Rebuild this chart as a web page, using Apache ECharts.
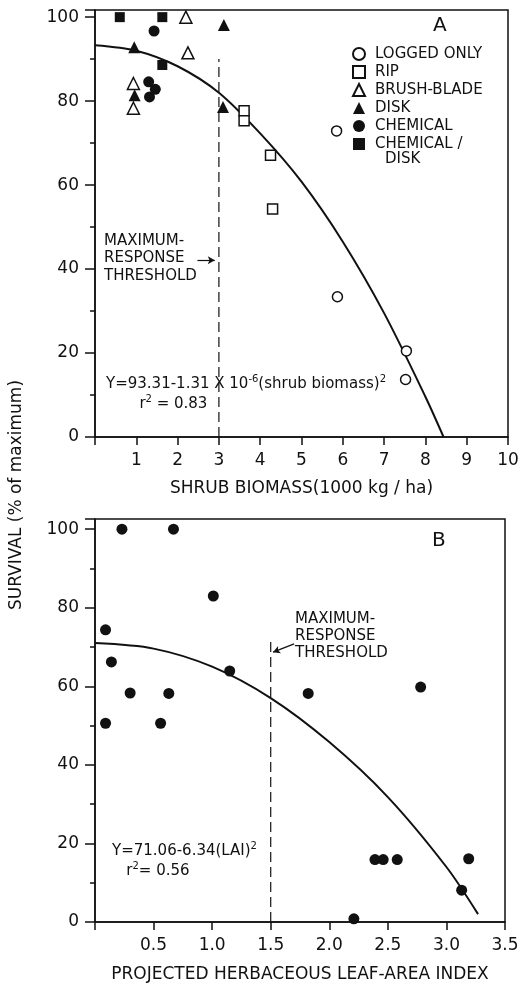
<!DOCTYPE html>
<html>
<head>
<meta charset="utf-8">
<script src="https://cdn.jsdelivr.net/npm/echarts@6/dist/echarts.min.js"></script>
<style>
  html, body { margin: 0; padding: 0; background: #fff; }
  #main { width: 522px; height: 984px; }
</style>
</head>
<body>
<div id="main"></div>
<script>
    // panel A: survival vs shrub biomass (1000 kg/ha)
    var loggedOnly = [[5.85, 72.9], [5.87, 33.4], [7.54, 20.5], [7.52, 13.7]];
    var rip = [[3.61, 77.7], [3.61, 75.3], [4.25, 67.1], [4.3, 54.3]];
    var brushBlade = [[2.2, 100], [2.25, 91.5], [0.93, 84.2], [0.93, 78.3]];
    var disk = [[3.12, 98.1], [0.95, 92.8], [0.96, 81.4], [3.1, 78.6]];
    var chemical = [[1.43, 96.7], [1.3, 84.6], [1.46, 82.8], [1.32, 81.0]];
    var chemDisk = [[0.6, 100], [1.63, 100], [1.63, 88.6]];
    // fitted curve
    var curveA = [[0, 93.3], [1, 92.0], [2, 88.3], [3, 82.0], [4, 72.3], [5, 60.8], [6, 46.5], [7, 29.5], [8, 9.6], [8.44, 0]];
    var thresholdA = [[3, 0], [3, 90]];
    var arrowA = [[2.48, 42.1], [2.9, 42.1]];

    // panel B: survival vs projected herbaceous LAI
    var laiPoints = [
        [0.23, 100], [0.67, 100], [1.01, 83.0], [0.09, 74.4], [0.14, 66.2], [1.15, 63.9],
        [0.3, 58.3], [0.63, 58.2], [1.82, 58.2], [2.78, 59.8], [0.09, 50.6], [0.56, 50.6],
        [2.21, 0.8], [2.39, 15.9], [2.46, 15.9], [2.58, 15.9], [3.19, 16.1], [3.13, 8.1]
    ];
    var curveB = [[0, 71.0], [0.5, 69.6], [1.0, 65.0], [1.5, 57.0], [2.0, 45.8], [2.5, 31.8], [3.0, 14.0], [3.27, 2.0]];
    var thresholdB = [[1.5, 0], [1.5, 71.5]];
    var arrowB = [[1.7, 70.8], [1.52, 68.7]];

    var legendNames = ['LOGGED ONLY', 'RIP', 'BRUSH-BLADE', 'DISK', 'CHEMICAL', 'CHEMICAL/DISK'];
    var xTicksA = [1, 2, 3, 4, 5, 6, 7, 8, 9, 10];
    var yTicks = [0, 20, 40, 60, 80, 100];

    var ink = '#111';
    var font = 'DejaVu Sans';

    var myChart = echarts.init(document.getElementById('main'));

    function hollow(name, symbol, size, data) {
        return {
            name: name, type: 'scatter', xAxisIndex: 0, yAxisIndex: 0,
            symbol: symbol, symbolSize: size, data: data,
            itemStyle: { color: '#fff', borderColor: ink, borderWidth: 1.5, opacity: 1 },
            z: 5
        };
    }
    function filled(name, symbol, size, data, xi) {
        return {
            name: name, type: 'scatter', xAxisIndex: xi, yAxisIndex: xi,
            symbol: symbol, symbolSize: size, data: data,
            itemStyle: { color: ink, opacity: 1 },
            z: 5
        };
    }
    function yAxisCfg(idx, max) {
        return {
            type: 'value', gridIndex: idx, min: 0, max: max, interval: 20,
            axisLine: { show: true, lineStyle: { color: ink, width: 1.5 } },
            axisTick: { show: true, length: 10, lineStyle: { color: ink, width: 1.5 } },
            minorTick: { show: true, splitNumber: 2, length: 5, lineStyle: { color: ink, width: 1.5 } },
            axisLabel: {
                margin: 16, fontSize: 17, color: ink, fontFamily: font,
                formatter: function (v) { return yTicks.indexOf(v) >= 0 ? v : ''; }
            },
            splitLine: { show: false }
        };
    }
    function lineSeries(data, xi, dashed) {
        return {
            type: 'line', xAxisIndex: xi, yAxisIndex: xi, data: data,
            smooth: dashed ? false : 0.3,
            showSymbol: false, symbol: 'none', silent: true,
            lineStyle: dashed ? { color: ink, width: 1.2, type: [10, 5] } : { color: ink, width: 2 },
            z: 3
        };
    }
    function arrowSeries(data, xi) {
        return {
            type: 'line', xAxisIndex: xi, yAxisIndex: xi, data: [],
            silent: true,
            markLine: {
                silent: true, symbol: ['none', 'arrow'], symbolSize: [6, 7],
                label: { show: false },
                lineStyle: { color: ink, width: 1.2, type: 'solid' },
                data: [[{ coord: data[0] }, { coord: data[1] }]]
            }
        };
    }

    myChart.setOption({
        backgroundColor: '#fff',
        animation: false,
        textStyle: { fontFamily: font },
        grid: [{
            left: 95, right: 14, top: 10, height: 427,
            show: true, borderColor: ink, borderWidth: 1.5, backgroundColor: 'transparent'
        }, {
            left: 95, right: 17, top: 519, height: 404,
            show: true, borderColor: ink, borderWidth: 1.5, backgroundColor: 'transparent'
        }],
        legend: {
            data: legendNames,
            orient: 'vertical',
            left: 352, top: 45,
            padding: 0,
            itemWidth: 12, itemHeight: 12, itemGap: 0,
            textStyle: { fontSize: 15, lineHeight: 18, color: ink, fontFamily: font, padding: [0, 0, 0, 5] },
            formatter: function (name) { return name === 'CHEMICAL/DISK' ? 'CHEMICAL /' : name; },
            selectedMode: false
        },
        xAxis: [{
            type: 'value', gridIndex: 0, min: 0, max: 10, interval: 1,
            axisLine: { show: true, onZero: false, lineStyle: { color: ink, width: 1.5 } },
            axisTick: { show: true, length: 8, lineStyle: { color: ink, width: 1.5 } },
            axisLabel: {
                margin: 15, fontSize: 17, color: ink, fontFamily: font,
                formatter: function (v) { return xTicksA.indexOf(v) >= 0 ? v : ''; }
            },
            splitLine: { show: false },
            name: 'SHRUB BIOMASS(1000 kg / ha)',
            nameLocation: 'middle', nameGap: 43,
            nameTextStyle: { fontSize: 17, color: ink, fontFamily: font }
        }, {
            type: 'value', gridIndex: 1, min: 0, max: 3.5, interval: 0.5,
            axisLine: { show: true, onZero: false, lineStyle: { color: ink, width: 1.5 } },
            axisTick: { show: true, length: 8, lineStyle: { color: ink, width: 1.5 } },
            axisLabel: {
                margin: 15, fontSize: 17, color: ink, fontFamily: font,
                formatter: function (v) { return v === 0 ? '' : v.toFixed(1); }
            },
            splitLine: { show: false },
            name: 'PROJECTED HERBACEOUS LEAF-AREA INDEX',
            nameLocation: 'middle', nameGap: 44,
            nameTextStyle: { fontSize: 17, color: ink, fontFamily: font }
        }],
        yAxis: [yAxisCfg(0, 101.7), yAxisCfg(1, 102.6)],
        series: [
            hollow('LOGGED ONLY', 'circle', 10, loggedOnly),
            hollow('RIP', 'rect', 10, rip),
            hollow('BRUSH-BLADE', 'triangle', 12, brushBlade),
            filled('DISK', 'triangle', 12, disk, 0),
            filled('CHEMICAL', 'circle', 11, chemical, 0),
            filled('CHEMICAL/DISK', 'rect', 10, chemDisk, 0),
            lineSeries(curveA, 0, false),
            lineSeries(thresholdA, 0, true),
            arrowSeries(arrowA, 0),
            filled('LAI', 'circle', 11, laiPoints, 1),
            lineSeries(curveB, 1, false),
            lineSeries(thresholdB, 1, true),
            arrowSeries(arrowB, 1)
        ],
        graphic: [
            { type: 'text', left: 385, top: 152, style: { text: 'DISK', fill: ink, font: '15px "' + font + '"' } },
            { type: 'text', left: 433, top: 16, style: { text: 'A', fill: ink, font: '20px "' + font + '"' } },
            { type: 'text', left: 432, top: 531, style: { text: 'B', fill: ink, font: '20px "' + font + '"' } },
            {
                type: 'text', left: 104, top: 232,
                style: { text: 'MAXIMUM-\nRESPONSE\nTHRESHOLD', fill: ink, font: '15px "' + font + '"', lineHeight: 17.5 }
            },
            {
                type: 'text', left: 295, top: 611,
                style: { text: 'MAXIMUM-\nRESPONSE\nTHRESHOLD', fill: ink, font: '15px "' + font + '"', lineHeight: 17 }
            },
            {
                type: 'text', left: 106, top: 374,
                style: {
                    text: '{n|Y=93.31-1.31 X 10}{s|-6}{n|(shrub biomass)}{s|2}\n{n|       r}{s|2}{n| = 0.83}',
                    fill: ink, lineHeight: 20,
                    rich: {
                        n: { fontSize: 15, fontFamily: font, fill: ink, lineHeight: 20 },
                        s: { fontSize: 10, fontFamily: font, fill: ink, verticalAlign: 'top', lineHeight: 20, padding: [0, 0, 8, 0] }
                    }
                }
            },
            {
                type: 'text', left: 112, top: 841,
                style: {
                    text: '{n|Y=71.06-6.34(LAI)}{s|2}\n{n|   r}{s|2}{n|= 0.56}',
                    fill: ink, lineHeight: 20,
                    rich: {
                        n: { fontSize: 15, fontFamily: font, fill: ink, lineHeight: 20 },
                        s: { fontSize: 10, fontFamily: font, fill: ink, verticalAlign: 'top', lineHeight: 20, padding: [0, 0, 8, 0] }
                    }
                }
            },
            {
                type: 'text', x: 17, y: 495, rotation: Math.PI / 2,
                style: { text: 'SURVIVAL (% of maximum)', fill: ink, font: '17px "' + font + '"', align: 'center', verticalAlign: 'middle' }
            }
        ]
    });
</script>
</body>
</html>
